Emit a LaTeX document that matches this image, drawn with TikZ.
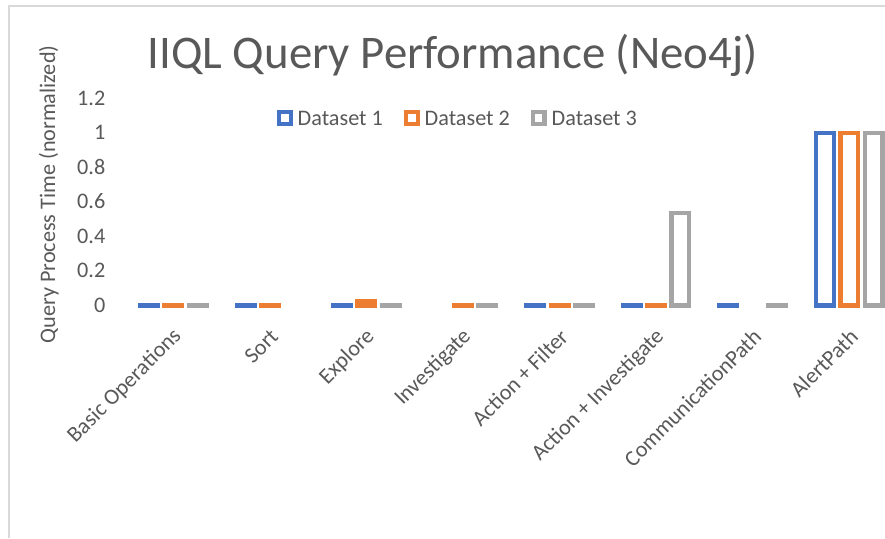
\documentclass[tikz,border=0pt]{standalone}
\usepackage{fontspec}
\setmainfont{Carlito}
\definecolor{ser0}{HTML}{4472C4}
\definecolor{ser1}{HTML}{ED7D31}
\definecolor{ser2}{HTML}{A5A5A5}
\definecolor{txtgray}{HTML}{595959}
\definecolor{framegray}{HTML}{D9D9D9}
\tikzset{
  bar/.style={line width=4.3pt, fill=white, line join=miter},
  legkey/.style={draw, line width=4.4pt, fill=white, minimum size=11.6pt, inner sep=0pt},
  smalltext/.style={text=txtgray, inner sep=0pt, font=\fontsize{22.2}{26}\selectfont},
  legtext/.style={smalltext, anchor=base west},
  ticklab/.style={smalltext, anchor=base east},
  catlab/.style={smalltext, anchor=east, rotate=45},
  axtitle/.style={smalltext, anchor=base, rotate=90},
  charttitle/.style={text=txtgray, inner sep=0pt, anchor=base, font=\fontsize{46.8}{56}\selectfont}
}
\begin{document}
\begin{tikzpicture}[x=1pt, y=-1pt]
  % canvas and chart frame
  \useasboundingbox[fill=white] (0,0) rectangle (885,538);
  \draw[framegray, line width=1.2pt] (9,538) -- (9,6) -- (885,6);

  % title
  \node[charttitle] (title) at (452.5,68) {IIQL Query Performance (Neo4j)};

  % value axis title and tick labels (zero at y=305.5, 172.5 units per 1.0)
  \node[axtitle] (ytitle) at (55,194.5) {Query Process Time (normalized)};
  \foreach \v/\lab [count=\n] in {0/0, 0.2/0.2, 0.4/0.4, 0.6/0.6, 0.8/0.8, 1/1, 1.2/1.2}
    \node[ticklab] (tick\n) at (105.5, {305.5-172.5*\v+6.7}) {\lab};

  % legend
  \node[legkey, draw=ser0] (key1) at (285,118) {};
  \node[legtext] (leg1) at (297.5,125) {Dataset 1};
  \node[legkey, draw=ser1] (key2) at (412,118) {};
  \node[legtext] (leg2) at (424.5,125) {Dataset 2};
  \node[legkey, draw=ser2] (key3) at (538.5,118) {};
  \node[legtext] (leg3) at (551.5,125) {Dataset 3};

  % bars: group / series / value
  \foreach \g/\s/\v in {
      0/0/0.004, 0/1/0.004, 0/2/0.004,
      1/0/0.004, 1/1/0.004,
      2/0/0.004, 2/1/0.027, 2/2/0.004,
      3/1/0.004, 3/2/0.004,
      4/0/0.004, 4/1/0.004, 4/2/0.004,
      5/0/0.004, 5/1/0.004, 5/2/0.537,
      6/0/0.004, 6/2/0.004,
      7/0/1, 7/1/1, 7/2/1}
  {
    \pgfmathsetmacro{\xl}{138+96.57*\g+24.3*\s+2.15}
    \draw[bar, draw=ser\s] (\xl,305.5) rectangle ({\xl+17.7},{305.5-172.5*\v});
  }

  % category labels
  \foreach \lab [count=\n from 0] in {Basic Operations, Sort, Explore, Investigate,
      Action + Filter, Action + Investigate, CommunicationPath, AlertPath}
    \node[catlab] (cat\n) at ({138+96.57*\n+36.5+3.5}, 333) {\lab};
\end{tikzpicture}
\end{document}
